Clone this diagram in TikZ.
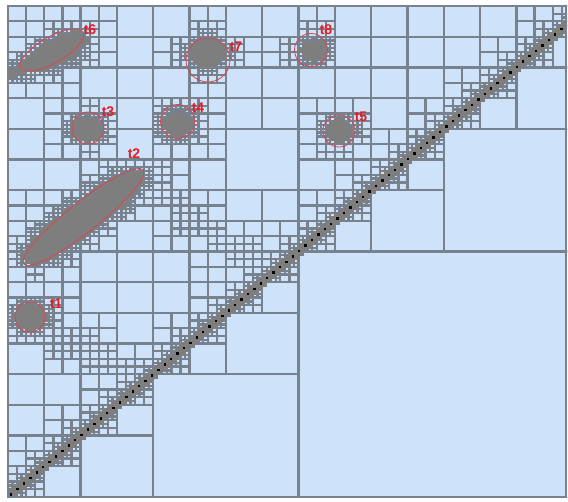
\documentclass[tikz,border=0pt]{standalone}
\usepackage{fontspec}
\setmainfont{Liberation Sans}
\definecolor{cellblue}{RGB}{206,226,250}
\definecolor{cellline}{RGB}{120,130,142}
\definecolor{densegray}{RGB}{126,126,126}
\definecolor{ringred}{RGB}{214,70,80}
\definecolor{lblred}{RGB}{232,28,36}
\tikzset{
  blk/.style={fill=cellblue,draw=cellline,line width=2.3pt},
  densecell/.style={fill=densegray,draw=densegray,line width=1pt},
  ring/.style={draw=ringred,line width=0.8pt},
  lbl/.style={text=lblred,font=\bfseries\fontsize{14}{14}\selectfont,inner sep=0pt},
  dotmark/.style={fill=black}
}
\newif\ifrefine \newif\ifdense
\newcount\bxa \newcount\bxb \newcount\bya \newcount\byb \newcount\bS
\newcount\hdd \newcount\ddx \newcount\ddy \newcount\tmpc
% feature points in half-cell units: cx cy r type (1 = dense spot, 0 = refinement only)
\def\spotlist{%
 \spt{2}{221}{2}{1}\spt{6}{223}{3}{1}\spt{11}{226}{4}{1}\spt{16}{229}{6}{1}%
 \spt{21}{232}{7}{1}\spt{26}{235}{7}{1}\spt{30}{238}{5}{1}%
 \spt{35}{192}{7}{1}\spt{75}{195}{7}{1}\spt{88}{232}{8}{1}%
 \spt{135}{233}{6}{1}\spt{146}{191}{6}{1}\spt{10}{94}{7}{1}%
 \spt{12}{126}{5}{1}\spt{16}{130}{7}{1}\spt{21}{135}{8}{1}\spt{26}{139}{8}{1}%
 \spt{31}{144}{8}{1}\spt{36}{148}{8}{1}\spt{41}{153}{8}{1}\spt{46}{157}{8}{1}%
 \spt{51}{162}{7}{1}\spt{55}{166}{5}{1}%
 \spt{62}{166}{0}{0}\spt{67}{161}{0}{0}\spt{72}{156}{0}{0}\spt{77}{151}{0}{0}%
 \spt{82}{146}{0}{0}\spt{87}{141}{0}{0}\spt{92}{136}{0}{0}\spt{97}{131}{0}{0}%
 \spt{102}{126}{0}{0}\spt{107}{121}{0}{0}%
 \spt{16}{90}{0}{0}\spt{21}{86}{0}{0}\spt{26}{82}{0}{0}\spt{31}{78}{0}{0}%
 \spt{36}{75}{0}{0}\spt{41}{71}{0}{0}\spt{46}{68}{0}{0}%
}
\def\spt#1#2#3#4{%
  \ddx=0 \ddy=0 %
  \tmpc=\numexpr\bxa-#1\relax \ifnum\tmpc>\ddx \ddx=\tmpc\fi
  \tmpc=\numexpr#1-\bxb\relax \ifnum\tmpc>\ddx \ddx=\tmpc\fi
  \tmpc=\numexpr\bya-#2\relax \ifnum\tmpc>\ddy \ddy=\tmpc\fi
  \tmpc=\numexpr#2-\byb\relax \ifnum\tmpc>\ddy \ddy=\tmpc\fi
  \ifnum#4=1
    \ifnum\numexpr36*(\ddx*\ddx+\ddy*\ddy)\relax<\numexpr(6*#3+\bS)*(6*#3+\bS)\relax
      \ifnum\hblk>1 \refinetrue\fi
    \fi
    \ifnum\hblk=1
      \ddx=\numexpr\bxa+1-#1\relax \ddy=\numexpr\bya+1-#2\relax
      \ifnum\numexpr\ddx*\ddx+\ddy*\ddy\relax<\numexpr#3*#3+3\relax \densetrue\fi
    \fi
  \else
    \hdd=\ddx \ifnum\ddy>\hdd \hdd=\ddy\fi
    \ifnum\numexpr3*\hdd\relax<\bS
      \ifnum\hblk>2 \refinetrue\fi
    \fi
  \fi}
\def\checkspots#1#2#3{%
  \bxa=\numexpr2*#1\relax \bxb=\numexpr2*(#1+#3)\relax
  \bya=\numexpr2*#2\relax \byb=\numexpr2*(#2+#3)\relax
  \bS=\numexpr2*#3\relax
  \def\hblk{#3}%
  \spotlist}
\def\decide#1#2#3{%
  \refinefalse\densefalse
  \ifnum#1<\numexpr#2+#3\relax
    \ifnum#2<\numexpr#1+#3\relax
      \ifnum#3>1 \refinetrue\else\densetrue\fi
    \else
      \ifnum#3>16 \refinetrue\fi
      \ifnum#3>8 \ifnum#2>111 \refinetrue\fi\fi
      \ifnum#3>1 \ifnum\numexpr#2-#1-#3\relax<#3 \refinetrue\fi\fi
      \checkspots{#1}{#2}{#3}%
    \fi
  \else
    \ifnum#3>1 \ifnum#3<5 \ifnum#1=\numexpr#2+#3\relax \refinetrue\fi\fi\fi
  \fi}
\def\drawblock#1#2#3#4{%
  \edef\hxa{\the\dimexpr 8pt+4.539pt*#1\relax}%
  \edef\hxb{\the\dimexpr 8pt+4.539pt*\numexpr#1+#3\relax\relax}%
  \edef\hya{\the\dimexpr 5pt+3.836pt*#2\relax}%
  \edef\hyb{\the\dimexpr 5pt+3.836pt*\numexpr#2+#3\relax\relax}%
  \ifnum#4=1 \filldraw[densecell] (\hxa,\hya) rectangle (\hxb,\hyb);%
  \else \filldraw[blk] (\hxa,\hya) rectangle (\hxb,\hyb);\fi}
\def\hblock#1#2#3{%
  \ifnum#1>122 \else
  \begingroup
  \decide{#1}{#2}{#3}%
  \ifrefine
    \edef\hs{\the\numexpr#3/2\relax}%
    \edef\hnext{\noexpand\hblock{#1}{#2}{\hs}%
      \noexpand\hblock{\the\numexpr#1+\hs\relax}{#2}{\hs}%
      \noexpand\hblock{#1}{\the\numexpr#2+\hs\relax}{\hs}%
      \noexpand\hblock{\the\numexpr#1+\hs\relax}{\the\numexpr#2+\hs\relax}{\hs}}%
  \else
    \edef\hnext{\noexpand\drawblock{#1}{#2}{#3}{\ifdense1\else0\fi}}%
  \fi
  \expandafter\endgroup\hnext
  \fi}
\begin{document}
\begin{tikzpicture}[x=1pt,y=1pt]
\useasboundingbox (0,0) rectangle (568,502);
\fill[white] (0,0) rectangle (568,502);
\begin{scope}
  \clip (7,4) rectangle (567,497);
  \hblock{0}{0}{128}
  \foreach \j in {0,...,127}{%
    \edef\bl{\the\dimexpr 8pt+4.539pt*\numexpr\j-1\relax\relax}%
    \edef\br{\the\dimexpr 8pt+4.539pt*\numexpr\j+2\relax\relax}%
    \edef\bb{\the\dimexpr 5pt+3.836pt*\j\relax}%
    \edef\bt{\the\dimexpr 5pt+3.836pt*\numexpr\j+1\relax\relax}%
    \filldraw[densecell] (\bl,\bb) rectangle (\br,\bt);
  }
  \foreach \k in {0,...,86}{%
    \pgfmathsetmacro\dtt{0.7+1.41*\k}%
    \fill[dotmark] ({8+4.539*\dtt-1.2},{5+3.836*\dtt-1.2}) rectangle +(2.4,2.4);
  }
\end{scope}
\draw[cellline,line width=2.3pt] (8,5) rectangle (566.3,496);
% near-field interaction markers
\draw[ring,rotate around={30:(52,452)}] (52,452) ellipse [x radius=36,y radius=13];
\draw[ring,rotate around={38.3:(83.5,285)}] (83.5,285) ellipse [x radius=76,y radius=15];
\draw[ring] (88,374) circle [radius=16];
\draw[ring] (30,185) circle [radius=15];
\draw[ring] (177.5,380.5) circle [radius=17];
\draw[ring] (208,442) circle [radius=22];
\draw[ring] (311,452) circle [radius=16.5];
\draw[ring] (339,371) circle [radius=16];
\node[lbl] (t6) at (90,472) {t6};
\node[lbl] (t3) at (108,390) {t3};
\node[lbl] (t2) at (134,348) {t2};
\node[lbl] (t1) at (56,198) {t1};
\node[lbl] (t4) at (198,394) {t4};
\node[lbl] (t7) at (236,455) {t7};
\node[lbl] (t8) at (326,472) {t8};
\node[lbl] (t5) at (361,385) {t5};
\end{tikzpicture}
\end{document}
